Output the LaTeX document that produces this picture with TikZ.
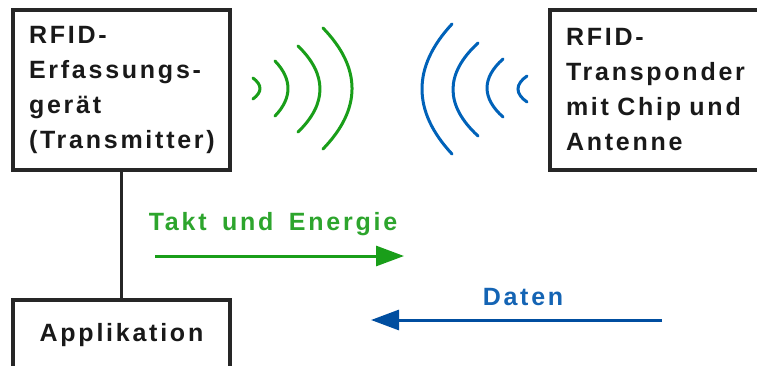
\documentclass[tikz,border=0pt]{standalone}
\usepackage{fontspec}
\setmainfont{Liberation Sans}[LetterSpace=11, WordSpace=1.6]
\usetikzlibrary{arrows.meta}
\definecolor{wavegreen}{RGB}{25,158,25}
\definecolor{greentext}{RGB}{45,165,45}
\definecolor{waveblue}{RGB}{0,98,185}
\definecolor{arrowblue}{RGB}{0,78,160}
\definecolor{bluetext}{RGB}{20,100,180}
\definecolor{ink}{RGB}{25,25,25}
\begin{document}
\begin{tikzpicture}[x=1pt,y=-1pt,
  font=\fontsize{25}{35}\selectfont\bfseries,
  box/.style={draw=black!85, line width=4pt, fill=white, text=ink,
    inner xsep=16pt, inner ysep=0pt, align=left},
  conn/.style={draw=black!85, line width=3.5pt},
  greenwave/.style={draw=wavegreen, line width=3pt, line cap=round},
  bluewave/.style={draw=waveblue, line width=3pt, line cap=round},
  greenarrow/.style={draw=wavegreen, line width=3pt,
    -{Triangle[length=28pt,width=20pt]}},
  bluearrow/.style={draw=arrowblue, line width=3pt,
    -{Triangle[length=28pt,width=20pt]}}]
\clip (0,0) rectangle (757,365);
\fill[white] (0,0) rectangle (757,365);

% boxes
\node[box, minimum width=217pt, minimum height=160pt, text width=185pt]
  (reader) at (121.5,90) {RFID-\\Erfassungs-\\gerät\\(Transmitter)};
\node[box, minimum width=240pt, minimum height=160pt, text width=208pt]
  (tag) at (670,90) {RFID-\\Transponder\\mit Chip und\\Antenne};
\node[box, align=center, minimum width=217pt, minimum height=70pt, text width=185pt]
  (app) at (121.5,335) {Applikation};

\draw[conn] (reader.south) -- (app.north);

% green waves (from reader)
\draw[greenwave] (253,78) .. controls (262.3,85) and (262.3,92) .. (253,99);
\draw[greenwave] (275,61) .. controls (292.3,79) and (292.3,98) .. (275,116);
\draw[greenwave] (298,46) .. controls (327.3,74.3) and (327.3,103.7) .. (298,132);
\draw[greenwave] (323,28) .. controls (361.7,68) and (361.7,109) .. (323,149);

% blue waves (from transponder)
\draw[bluewave] (452,24) .. controls (412,67) and (412,111) .. (452,154);
\draw[bluewave] (478,43) .. controls (444.7,73.7) and (444.7,105.3) .. (478,136);
\draw[bluewave] (503,59) .. controls (481.7,78) and (481.7,98) .. (503,117);
\draw[bluewave] (527,76) .. controls (515,84.3) and (515,93.7) .. (527,102);

% arrows
\coordinate (gs) at (155,256);
\coordinate (ge) at (404,256);
\draw[greenarrow] (gs) -- (ge);
\node[text=greentext] (takt) at (273,224) {Takt und Energie};

\coordinate (bs) at (662,320);
\coordinate (be) at (371,320);
\draw[bluearrow] (bs) -- (be);
\node[text=bluetext] (daten) at (523,297) {Daten};
\end{tikzpicture}
\end{document}
